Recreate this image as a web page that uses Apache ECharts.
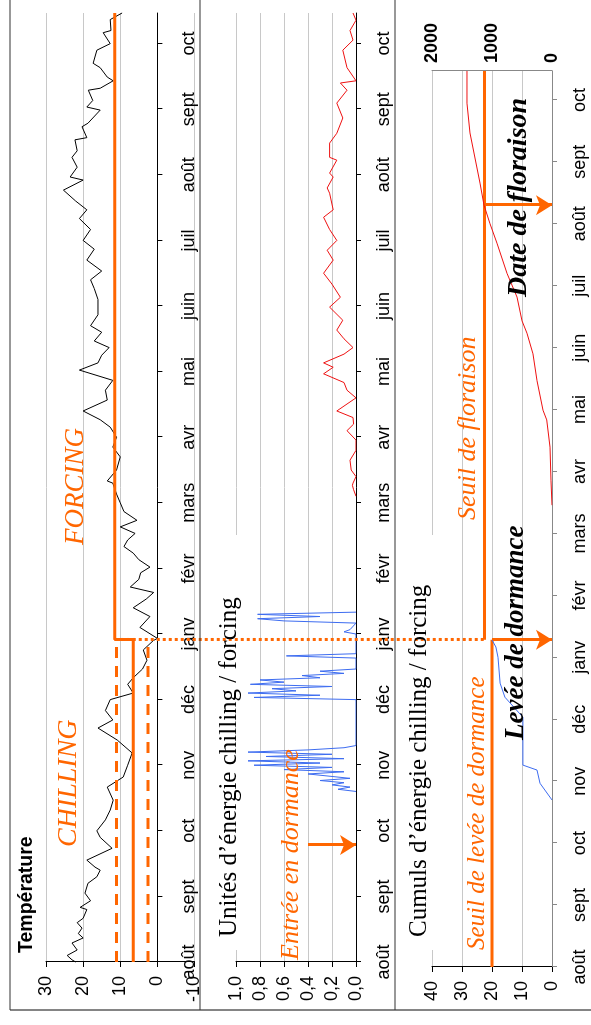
<!DOCTYPE html>
<html>
<head>
<meta charset="utf-8">
<script src="https://cdn.jsdelivr.net/npm/echarts@6/dist/echarts.min.js"></script>
<style>
html, body { margin: 0; padding: 0; background: #fff; overflow: hidden; width: 591px; height: 1025px; }
#chart { position: absolute; left: 0; top: 0; width: 1025px; height: 591px;
  transform-origin: 0 0; transform: translate(0, 1025px) rotate(-90deg); }
</style>
</head>
<body>
<div id="chart"></div>
<script>
// ---- time axis: days counted from 1 August ----
const months = ['août','sept','oct','nov','déc','janv','févr','mars','avr','mai','juin','juil','août','sept','oct'];
const monthDays = [0,30,60,90,120,150,180,210,240,270,300,330,360,390,420];
const lastDay = 434;

// ---- daily mean temperature (°C) ----
const tempDays = [0,1,3,5.5,8.7,11,13,15.5,18,20,24,25,28,31.5,36,39,42,43.4,46.6,52,57,60,65,69.5,74,80,84.6,90,95.6,101.5,107,110.7,115,120,123,127,130,134,138,142.7,147,148,153,158,162,166,169,171.5,175,178,180.6,184,187,190,193,196,199,202,206,210,214,219,220,225,231,235.5,240,244.6,248,252,257,261.5,266,270.7,274,277.5,281,284,288,291,296,303,308,312,316,321,326,330,335,340,344,348,353,357.6,359,363.5,368,371,376,377,382,383.6,389.6,391,394,398.7,399.6,403,404.7,409,411,417,420,425,426,431,434];
const tempValues = [22,23,24.3,21.6,23,20,21.3,20.3,21.6,20,19,20.8,18,19.5,18.7,16.3,15.4,16.8,19,12.2,15.4,16.3,14,12.7,11.9,13.5,9.2,8,6.8,10.8,16,12,14,12.7,6.5,8,6.5,4,2.8,3.8,1.1,0,4.7,2,6.5,3,1,7.3,5,4.5,2,5,6.5,9,8,6,10,5.5,9,10,11,12,13.5,11,10,12,11,12.7,15.4,20,13.5,14,12,21,16,15,13,17,15,18,16,16,17,18,15,19,17,20,18,21,19,22,25.3,20,23.5,21.6,23,21.6,22.2,19,20.3,18.7,15.4,19,17.4,18.6,15.4,11.9,13.5,15.4,17.3,16.3,12.7,14.6,12.5,12.7,9.5];

// ---- daily chilling units (0–1) ----
const chillDays = [78,79,80,81,82,83,84,86,87,88,89,90,91,92,93,94,95,96,97,98,99,120,121,122,123,124,125,126,127,128,129,130,131,132,133,134,139,140,141,150,151,152,155,156,157,158,159,160];
const chillUnits = [0,0.15,0.05,0.2,0.1,0.3,0.05,0.4,0.1,0.6,0.2,0.85,0.3,0.9,0.1,0.75,0.2,0.9,0.4,0.1,0,0,0.85,0.3,0.9,0.5,0.7,0.2,0.88,0.6,0.8,0.3,0.45,0.1,0.3,0,0,0.58,0,0,0.1,0.05,0,0.6,0.82,0.3,0.82,0];

// ---- daily forcing units (0–1) ----
const forceDays = [213,216,218,219,222,225,229.5,234,238.7,243,246,249,252,258,261.5,265,269,272,274,278,281,285,289,293.5,299.5,304,310,315,321,325.5,330,335,340.6,344,351.6,354,359,360.8,366.7,368,374.5,379,386,392.8,398.7,402,403,409,417,421.6,426,430.7,434];
const forceUnits = [0,0.02,0.03,0.025,0,0.04,0.05,0,0,0.075,0.02,0.025,0.16,0,0.075,0.1,0.27,0.19,0.27,0.1,0.025,0.1,0.16,0.11,0.22,0.13,0.2,0.27,0.19,0.24,0.16,0.22,0.27,0.19,0.22,0.24,0.19,0.22,0.16,0.22,0.22,0.16,0.11,0.16,0.075,0.13,0,0.075,0.11,0.025,0.05,0,0.025];

// ---- cumulated chilling (left scale, 0–40) ----
const chillSumDays = [80.9,89,95.4,97.8,121,130.7,137.5,150,155,158.4];
const chillSum = [0,4,5,9.7,9.7,15.7,17.3,18,18.7,20];

// ---- cumulated forcing (right scale, 0–2000) ----
const forceSumDays = [223.7,235.8,251.8,265,269.7,284,297,307,313,324.5,336,350.6,360,369,379.7,404,418.4,434];
const forceSum = [0,17,33,88,150,250,317,417,500,583,750,917,1033,1133,1200,1367,1417,1417];

// ---- model thresholds and dates ----
const chillLow = 2.5, chillOptimum = 6.5, chillHigh = 11, forcingBase = 11.5;
const dormancyEntryDay = 53.5, dormancyBreakDay = 147.5;
const chillRequirement = 20, chillMetDay = 158.5;
const heatRequirement = 1125, floweringDay = 369;

const ORANGE = '#ff6600';
const SANS = '"Liberation Sans", Arial, sans-serif';
const SERIF = '"Liberation Serif", "Times New Roman", serif';
const GRID = '#c8c8c8';

const chart = echarts.init(document.getElementById('chart'), null, { renderer: 'canvas', width: 1025, height: 591 });

function pairs(xs, ys) { return xs.map((x, i) => [x, ys[i]]); }

function monthAxis(grid, color, margin) {
  return {
    type: 'value', gridIndex: grid, min: 0, max: lastDay,
    axisLine: { show: true, onZero: true, lineStyle: { color: color, width: 1 } },
    axisTick: { show: true, customValues: monthDays, length: 5, lineStyle: { color: color } },
    axisLabel: { customValues: monthDays, formatter: v => months[Math.round(v / 30)], margin: margin,
      fontSize: 18, color: '#000', fontFamily: SANS },
    splitLine: { show: false }
  };
}

function valueAxis(grid, min, max, interval, fmt) {
  return {
    type: 'value', gridIndex: grid, min: min, max: max, interval: interval,
    axisLine: { show: true, onZero: false, lineStyle: { color: '#000', width: 1 } },
    axisTick: { show: true, length: 5, lineStyle: { color: '#000' } },
    axisLabel: { margin: 14, fontSize: 18, color: '#000', fontFamily: SANS, formatter: fmt },
    splitLine: { show: true, lineStyle: { color: GRID, width: 1 } }
  };
}

function seg(x, y, pts, color, width, type) {
  return { type: 'line', xAxisIndex: x, yAxisIndex: y, data: pts, symbol: 'none', silent: true,
    lineStyle: { color: color, width: width, type: type || 'solid' }, z: 4 };
}

function arrow(x0, y0, x1, y1) {
  return { silent: true, symbol: ['none', 'arrow'], symbolSize: [15, 16], precision: 2,
    lineStyle: { color: ORANGE, width: 3, type: 'solid' }, label: { show: false },
    emphasis: { disabled: true },
    data: [[{ coord: [x0, y0] }, { coord: [x1, y1] }]] };
}

const option = {
  animation: false,
  backgroundColor: '#fff',
  grid: [
    { left: 63, top: 46, width: 949, height: 148.5 },
    { left: 63, top: 236, width: 949, height: 120 },
    { left: 58, top: 432, width: 896, height: 120 }
  ],
  xAxis: [ monthAxis(0, '#000', -14), monthAxis(1, '#000', 19), monthAxis(2, '#888', 19) ],
  yAxis: [
    valueAxis(0, -10, 30, 10),
    valueAxis(1, 0, 1, 0.2, v => v.toFixed(1).replace('.', ',')),
    valueAxis(2, 0, 40, 10),
    { type: 'value', gridIndex: 2, position: 'right', min: 0, max: 2000, interval: 1000,
      axisLine: { show: true, onZero: false, lineStyle: { color: '#888', width: 1 } },
      axisTick: { show: false },
      axisLabel: { margin: 8, fontSize: 18, fontWeight: 'bold', color: '#000', fontFamily: SANS,
        formatter: v => String(v) },
      splitLine: { show: false } }
  ],
  series: [
    // temperature panel
    { type: 'line', xAxisIndex: 0, yAxisIndex: 0, data: pairs(tempDays, tempValues), symbol: 'none',
      lineStyle: { color: '#000', width: 1 }, silent: true, z: 3 },
    seg(0, 0, [[0, chillOptimum], [dormancyBreakDay, chillOptimum], [dormancyBreakDay, forcingBase], [lastDay, forcingBase]], ORANGE, 3),
    seg(0, 0, [[0, chillHigh], [dormancyBreakDay, chillHigh]], ORANGE, 3, [11, 8]),
    seg(0, 0, [[0, chillLow], [dormancyBreakDay, chillLow]], ORANGE, 3, [11, 8]),
    // daily units panel
    { type: 'line', xAxisIndex: 1, yAxisIndex: 1, data: pairs(chillDays, chillUnits), symbol: 'none',
      lineStyle: { color: '#3d6cf0', width: 1 }, silent: true, z: 3,
      markLine: arrow(dormancyEntryDay, 0.4, dormancyEntryDay, 0) },
    { type: 'line', xAxisIndex: 1, yAxisIndex: 1, data: pairs(forceDays, forceUnits), symbol: 'none',
      lineStyle: { color: '#ee1111', width: 1 }, silent: true, z: 3 },
    // cumulated panel
    seg(2, 2, [[0, chillRequirement], [chillMetDay, chillRequirement]], ORANGE, 3),
    seg(2, 3, [[chillMetDay, heatRequirement], [lastDay, heatRequirement]], ORANGE, 3),
    { type: 'line', xAxisIndex: 2, yAxisIndex: 2, data: pairs(chillSumDays, chillSum), symbol: 'none',
      lineStyle: { color: '#3d6cf0', width: 1 }, silent: true, z: 5,
      markLine: arrow(chillMetDay, chillRequirement, chillMetDay, 0) },
    { type: 'line', xAxisIndex: 2, yAxisIndex: 3, data: pairs(forceSumDays, forceSum), symbol: 'none',
      lineStyle: { color: '#ee1111', width: 1 }, silent: true, z: 5,
      markLine: arrow(floweringDay, heatRequirement, floweringDay, 0) }
  ]
};
chart.setOption(option);

// frames, titles and annotations
const p0 = chart.convertToPixel({ xAxisIndex: 0, yAxisIndex: 0 }, [dormancyBreakDay, forcingBase]);
const p1 = chart.convertToPixel({ xAxisIndex: 2, yAxisIndex: 3 }, [chillMetDay, heatRequirement]);

function txt(x, y, text, font, color) {
  return { type: 'text', x: x, y: y, z: 50, silent: true,
    style: { text: text, font: font, fill: color, verticalAlign: 'middle', align: 'left' } };
}

chart.setOption({
  graphic: [
    { type: 'line', z: 60, silent: true, shape: { x1: 15, y1: 10, x2: 1025, y2: 10 }, style: { stroke: '#333', lineWidth: 1.2 } },
    { type: 'line', z: 60, silent: true, shape: { x1: 15, y1: 200, x2: 1025, y2: 200 }, style: { stroke: '#333', lineWidth: 1.2 } },
    { type: 'line', z: 60, silent: true, shape: { x1: 15, y1: 395, x2: 1025, y2: 395 }, style: { stroke: '#333', lineWidth: 1.2 } },
    { type: 'line', z: 60, silent: true, shape: { x1: 15, y1: 10, x2: 15, y2: 591 }, style: { stroke: '#333', lineWidth: 1.2 } },
    // dotted link between chill satisfaction and forcing phase
    { type: 'line', z: 45, silent: true, shape: { x1: p0[0], y1: p0[1], x2: p0[0], y2: p1[1] },
      style: { stroke: ORANGE, lineWidth: 3, lineDash: [3, 3] } },
    // title backgrounds
    { type: 'rect', z: 40, silent: true, shape: { x: 75, y: 212, width: 415, height: 27 }, style: { fill: '#fff' } },
    { type: 'rect', z: 40, silent: true, shape: { x: 75, y: 405, width: 415, height: 28.5 }, style: { fill: '#fff' } },
    txt(72, 27, 'Température', 'bold 19.5px ' + SANS, '#000'),
    txt(88, 229, 'Unités d\u2019énergie chilling / forcing', '25px ' + SERIF, '#000'),
    txt(88, 419, 'Cumuls d\u2019énergie chilling / forcing', '25px ' + SERIF, '#000'),
    txt(178, 69, 'CHILLING', 'italic 28px ' + SERIF, ORANGE),
    txt(480, 76, 'FORCING', 'italic 27px ' + SERIF, ORANGE),
    txt(65, 291, 'Entrée en dormance', 'italic 26px ' + SERIF, ORANGE),
    txt(75, 477, 'Seuil de levée de dormance', 'italic 25px ' + SERIF, ORANGE),
    txt(505, 468, 'Seuil de floraison', 'italic 26px ' + SERIF, ORANGE),
    txt(285, 516, 'Levée de dormance', 'italic bold 27px ' + SERIF, '#000'),
    txt(728, 519, 'Date de floraison', 'italic bold 28px ' + SERIF, '#000')
  ]
});
</script>
</body>
</html>
